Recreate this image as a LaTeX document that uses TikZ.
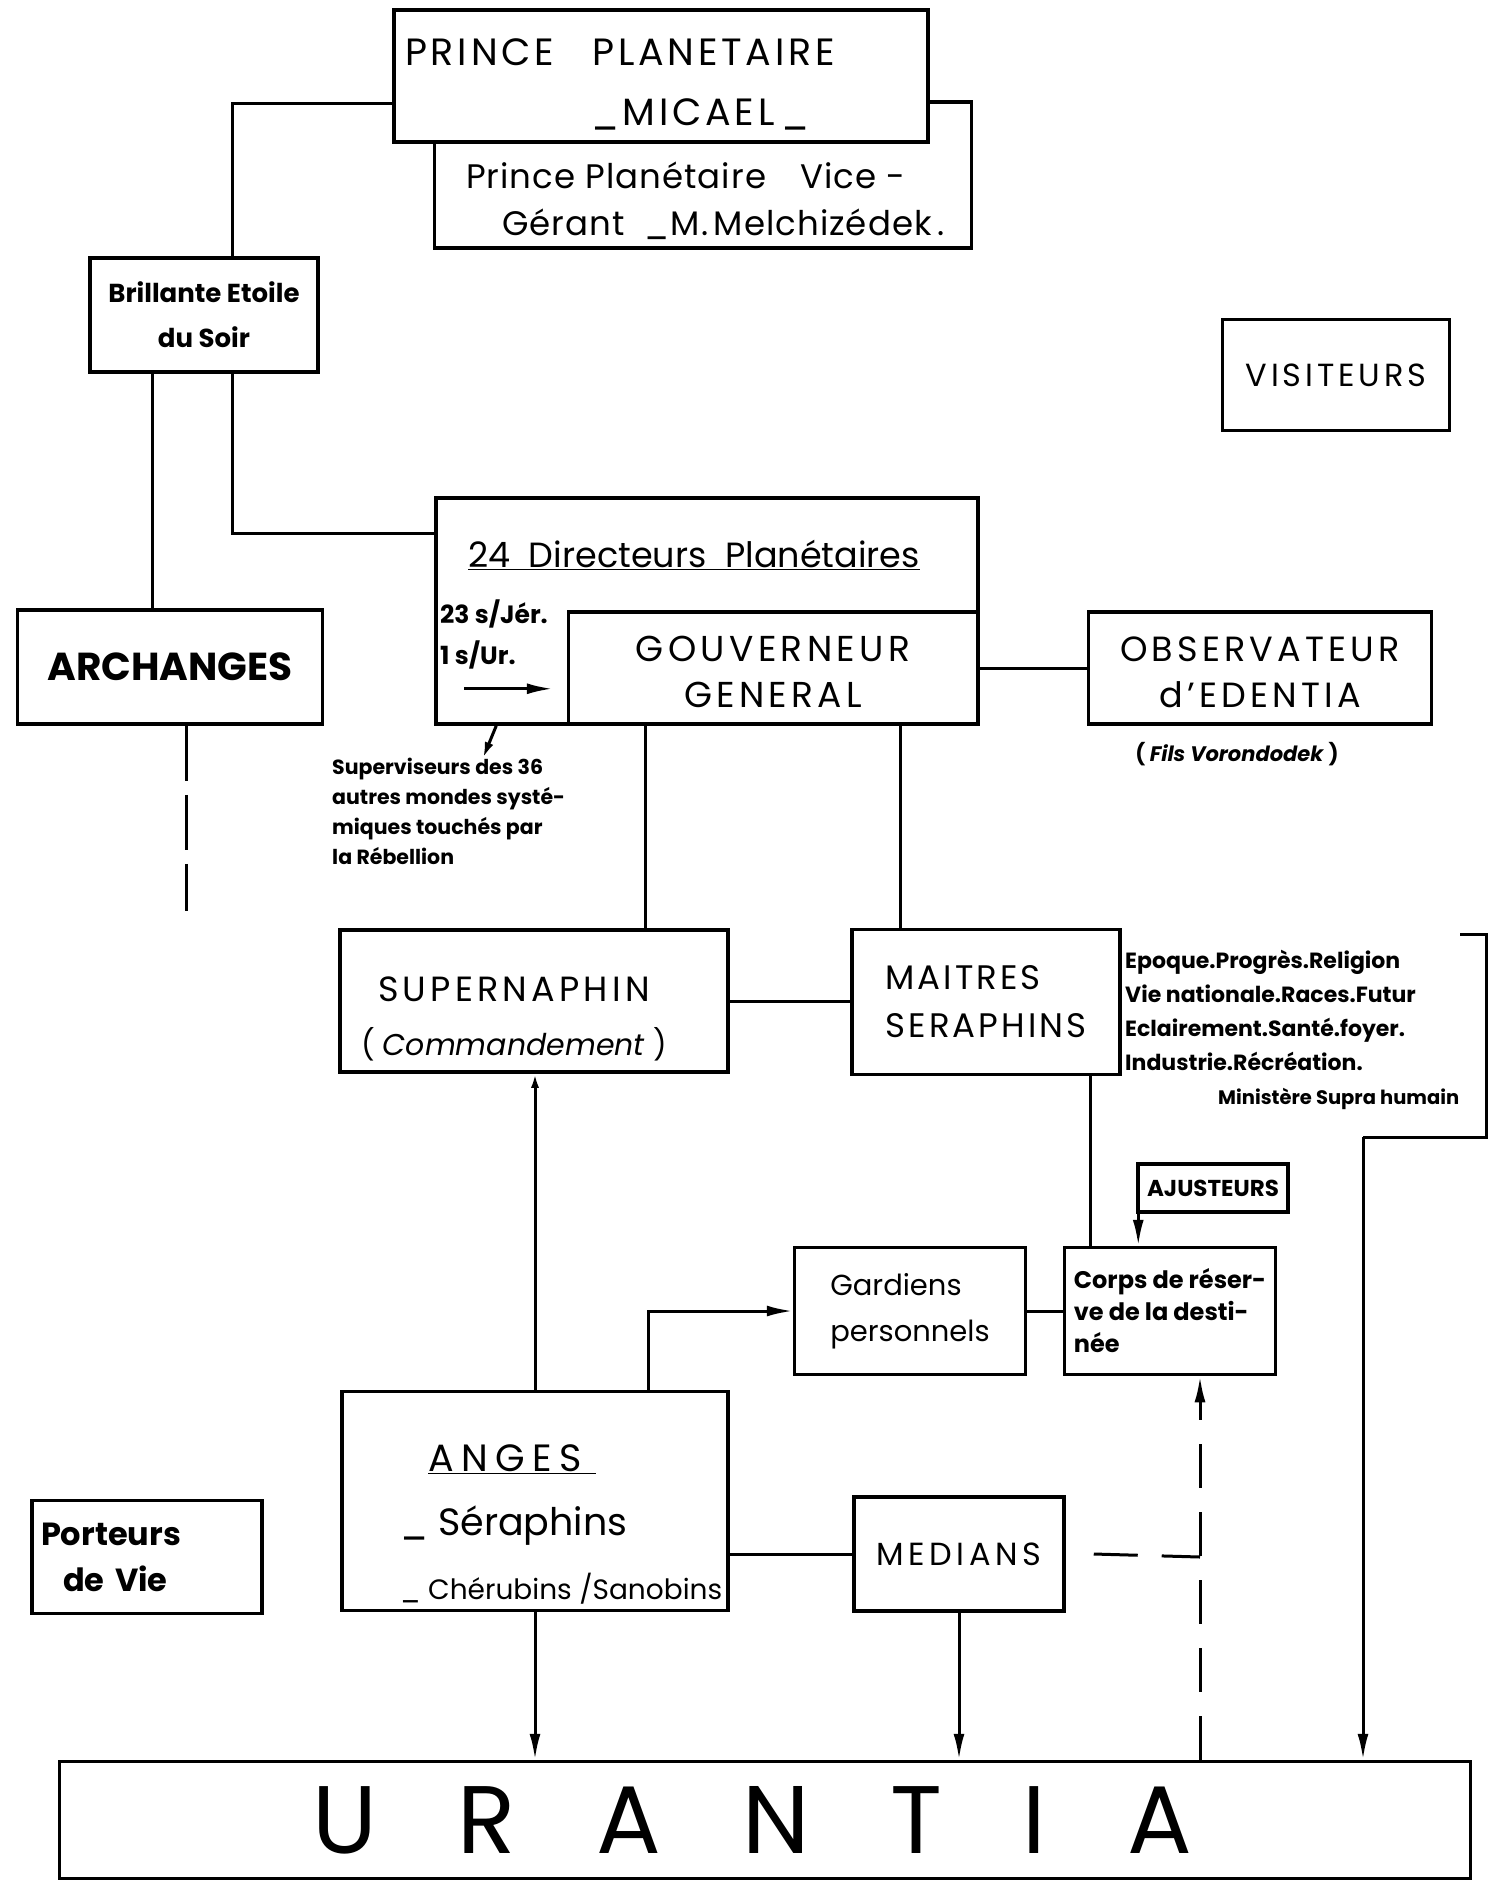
\documentclass[tikz,border=0pt]{standalone}
\usepackage{fontspec}
\setmainfont{Poppins}
\usetikzlibrary{arrows.meta}

\tikzset{
  boite/.style={draw, line width=3.5pt, fill=white, inner sep=0pt, align=center},
  texte/.style={inner sep=0pt},
  lien/.style={line width=3pt},
  fleche/.style={lien, -{Latex[length=26pt,width=11pt]}},
  tirets/.style={lien, dash pattern=on 55pt off 14pt},
  pointilles/.style={lien, dash pattern=on 44pt off 24pt},
}

\begin{document}
\begin{tikzpicture}[x=1pt,y=-1pt]
   \useasboundingbox[fill=white] (0,0) rectangle (1497,1883);

   \node[boite, minimum width=537pt, minimum height=146pt] (vice) at (703,175) {};
   \node[boite, minimum width=534pt, minimum height=132pt] (prince) at (661,76) {};
   \node[texte, anchor=west, font=\fontsize{38}{44}\selectfont\addfontfeature{LetterSpace=10}] (princenom) at (405,52) {PRINCE\quad PLANETAIRE};
   \node[texte, font=\fontsize{38}{44}\selectfont\addfontfeature{LetterSpace=10}] (micael) at (700,114) {\_MICAEL\,\_};
   \node[texte, anchor=west, align=left, font=\fontsize{34}{47}\selectfont\addfontfeature{LetterSpace=3}] (vicenom) at (466,201) {Prince Planétaire\quad Vice -\\\hspace{36pt}Gérant\ \ \_M.\,Melchizédek\,.};

   \node[boite, minimum width=228pt, minimum height=114pt, font=\fontsize{26}{45}\selectfont\bfseries] (brillante) at (204,315) {Brillante Etoile\\du Soir};
   \node[boite, minimum width=305pt, minimum height=114pt, font=\fontsize{39}{44}\selectfont\bfseries] (archanges) at (170,667) {ARCHANGES};
   \node[boite, minimum width=227pt, minimum height=111pt, font=\fontsize{32}{38}\selectfont\addfontfeature{LetterSpace=12}] (visiteurs) at (1336,375) {VISITEURS};

   \node[boite, minimum width=542pt, minimum height=226pt] (directeurs) at (707,611) {};
   \node[texte, font=\fontsize{35}{40}\selectfont] (dirnom) at (694,555) {\underline{24\ \ Directeurs\ \ Planétaires}};
   \node[texte, anchor=west, align=left, font=\fontsize{25}{41}\selectfont\bfseries] (repartition) at (440,634) {23 s/Jér.\\1 s/Ur.};
   \node[boite, minimum width=409pt, minimum height=112pt, font=\fontsize{36}{46}\selectfont\addfontfeature{LetterSpace=12}] (gouverneur) at (773,668) {\rule{0pt}{34pt}GOUVERNEUR\\GENERAL};
   \node[boite, minimum width=343pt, minimum height=112pt, font=\fontsize{35}{46}\selectfont\addfontfeature{LetterSpace=12}] (observateur) at (1260,668) {\rule{0pt}{34pt}OBSERVATEUR\\d'EDENTIA};
   \node[texte, font=\fontsize{21}{24}\selectfont\bfseries] (fils) at (1237,754) {( \textit{Fils Vorondodek} )};
   \node[texte, anchor=north west, align=left, font=\fontsize{20.5}{30}\selectfont\bfseries] (superviseurs) at (332,758) {Superviseurs des 36\\autres mondes systé-\\miques touchés par\\la Rébellion};

   \node[boite, minimum width=388pt, minimum height=142pt] (supernaphin) at (534,1001) {};
   \node[texte, align=center, font=\fontsize{35}{54}\selectfont] (supernom) at (514,1019) {{\addfontfeature{LetterSpace=12}SUPERNAPHIN}\\{\fontsize{30}{34}\selectfont( \textit{Commandement} )}};
   \node[boite, minimum width=268pt, minimum height=145pt, align=left, font=\fontsize{34}{48}\selectfont\addfontfeature{LetterSpace=9}] (maitres) at (986,1002) {MAITRES\\SERAPHINS};
   \node[texte, anchor=north west, align=left, font=\fontsize{22}{34}\selectfont\bfseries] (ministeres) at (1125,950) {Epoque.Progrès.Religion\\Vie nationale.Races.Futur\\Eclairement.Santé.foyer.\\Industrie.Récréation.\\\hspace{93pt}{\fontsize{19.5}{34}\selectfont Ministère Supra humain}};
   \coordinate (ministere) at (1363,1137);

   \node[boite, minimum width=150pt, minimum height=48pt, font=\fontsize{23}{26}\selectfont\bfseries] (ajusteurs) at (1213,1188) {AJUSTEURS};
   \node[boite, minimum width=231pt, minimum height=127pt, align=left, font=\fontsize{29}{46}\selectfont] (gardiens) at (910,1311) {Gardiens\\personnels};
   \node[boite, minimum width=211pt, minimum height=127pt, align=left, font=\fontsize{24}{32}\selectfont\bfseries] (corps) at (1170,1311) {Corps de réser-\\ve de la desti-\\née};

   \node[boite, minimum width=386pt, minimum height=219pt] (anges) at (535,1501) {};
   \node[texte, anchor=west, align=left, font=\fontsize{38}{64}\selectfont] (angesnom) at (400,1524) {\hspace{28pt}\underline{\addfontfeature{LetterSpace=20}ANGES\hspace{14pt}}\\\_ Séraphins\\{\fontsize{28}{30}\selectfont\_ Chérubins /Sanobins}};
   \node[boite, minimum width=210pt, minimum height=114pt, font=\fontsize{32}{38}\selectfont\addfontfeature{LetterSpace=14}] (medians) at (959,1554) {MEDIANS};
   \node[boite, minimum width=230pt, minimum height=113pt, text width=212pt, align=left, font=\fontsize{32}{46}\selectfont\bfseries] (porteurs) at (147,1557) {Porteurs\\\hspace{22pt}de Vie};
   \coordinate (jonction) at (1200,1557);

   \node[boite, minimum width=1411pt, minimum height=117pt, font=\fontsize{96}{100}\selectfont\addfontfeature{LetterSpace=84}] (urantia) at (765,1820) {\hspace{-26pt}URANTIA};

   \draw[lien] ([yshift=40pt]prince.south west) -| ([xshift=28pt]brillante.north);
   \draw[lien] ([xshift=-52pt]brillante.south) -- ([xshift=-52pt]brillante.south |- archanges.north);
   \draw[lien] ([xshift=28pt]brillante.south) |- ([yshift=-37pt]directeurs.north west);
   \draw[tirets] ([xshift=16pt]archanges.south) -- ([xshift=16pt,yshift=-185pt]archanges.south);

   \draw[fleche] ([xshift=30pt,yshift=37pt]directeurs.south west) -- ([xshift=-14pt,yshift=37pt]gouverneur.south west);
   \draw[lien, -{Latex[length=16pt,width=9pt]}] ([xshift=62pt]directeurs.south west) -- ([xshift=151pt]superviseurs.north west);
   \draw[lien] (gouverneur.east) -- (gouverneur.east -| observateur.west);
   \draw[lien] ([xshift=-128pt]gouverneur.south) -- ([xshift=-128pt]gouverneur.south |- supernaphin.north);
   \draw[lien] ([xshift=127pt]gouverneur.south) -- ([xshift=127pt]gouverneur.south |- maitres.north);

   \draw[lien] (supernaphin.east) -- (supernaphin.east -| maitres.west);
   \draw[lien] ([xshift=104pt]maitres.south) -- ([xshift=104pt]maitres.south |- corps.north);
   \draw[lien] (1460,934) -- (1486,934) -- (1486,1137) -- (ministere);
   \draw[fleche] (ministere) -- (ministere |- urantia.north);

   \draw[fleche] ([xshift=2pt]ajusteurs.south west) -- ([xshift=2pt]ajusteurs.south west |- corps.north);
   \draw[lien] (gardiens.east) -- (gardiens.east -| corps.west);
   \draw[fleche] ([xshift=113pt]anges.north) |- (gardiens.west);
   \draw[lien, -{Latex[length=14pt,width=8pt]}] (anges.north) -- (anges.north |- supernaphin.south);

   \draw[lien] (medians.west -| anges.east) -- (medians.west);
   \draw[pointilles] ([xshift=28pt]medians.east) -- (jonction);
   \draw[pointilles, -{Latex[length=26pt,width=11pt]}] (jonction |- urantia.north) -- (jonction |- corps.south);
   \draw[fleche] (anges.south) -- (anges.south |- urantia.north);
   \draw[fleche] (medians.south) -- (medians.south |- urantia.north);
\end{tikzpicture}
\end{document}
